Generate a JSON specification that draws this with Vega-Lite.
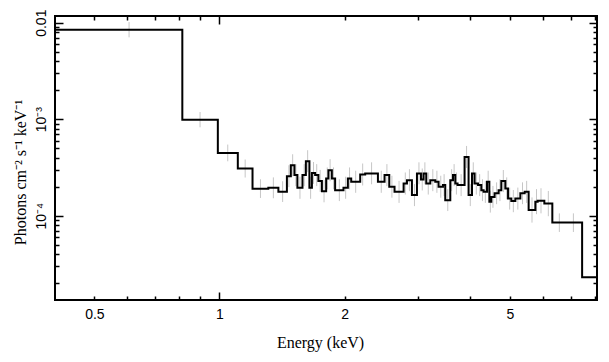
{
  "$schema": "https://vega.github.io/schema/vega-lite/v6.json",
  "width": 542,
  "height": 284,
  "autosize": {"type": "none"},
  "padding": {"left": 55, "top": 16, "right": 12, "bottom": 62},
  "background": "white",
  "config": {
    "view": {"stroke": "black", "strokeWidth": 2},
    "axis": {"grid": false, "domain": false, "labelColor": "black", "tickColor": "black", "titleColor": "black"}
  },
  "datasets": {
    "step": [
      {"e0": 0.40, "f": 0.00846},
      {"e0": 0.814, "f": 0.00099},
      {"e0": 0.991, "f": 0.000448},
      {"e0": 1.107, "f": 0.000309},
      {"e0": 1.201, "f": 0.000191},
      {"e0": 1.311, "f": 0.000195},
      {"e0": 1.386, "f": 0.000178},
      {"e0": 1.453, "f": 0.000257},
      {"e0": 1.485, "f": 0.000334},
      {"e0": 1.515, "f": 0.000264},
      {"e0": 1.540, "f": 0.000195},
      {"e0": 1.584, "f": 0.000264},
      {"e0": 1.614, "f": 0.000368},
      {"e0": 1.646, "f": 0.000195},
      {"e0": 1.669, "f": 0.000278},
      {"e0": 1.699, "f": 0.000264},
      {"e0": 1.730, "f": 0.000230},
      {"e0": 1.764, "f": 0.000180},
      {"e0": 1.806, "f": 0.000244},
      {"e0": 1.829, "f": 0.000297},
      {"e0": 1.864, "f": 0.000244},
      {"e0": 1.898, "f": 0.000184},
      {"e0": 1.988, "f": 0.000195},
      {"e0": 2.037, "f": 0.000244},
      {"e0": 2.075, "f": 0.000225},
      {"e0": 2.181, "f": 0.000268},
      {"e0": 2.242, "f": 0.000275},
      {"e0": 2.406, "f": 0.000225},
      {"e0": 2.496, "f": 0.000264},
      {"e0": 2.562, "f": 0.000200},
      {"e0": 2.638, "f": 0.000177},
      {"e0": 2.774, "f": 0.000216},
      {"e0": 2.826, "f": 0.000234},
      {"e0": 2.905, "f": 0.000164},
      {"e0": 2.987, "f": 0.000275},
      {"e0": 3.054, "f": 0.000238},
      {"e0": 3.098, "f": 0.000275},
      {"e0": 3.145, "f": 0.000216},
      {"e0": 3.216, "f": 0.000234},
      {"e0": 3.306, "f": 0.000225},
      {"e0": 3.367, "f": 0.000200},
      {"e0": 3.450, "f": 0.000208},
      {"e0": 3.494, "f": 0.000145},
      {"e0": 3.593, "f": 0.000234},
      {"e0": 3.647, "f": 0.000264},
      {"e0": 3.694, "f": 0.000216},
      {"e0": 3.741, "f": 0.000208},
      {"e0": 3.889, "f": 0.000407},
      {"e0": 3.976, "f": 0.000164},
      {"e0": 4.052, "f": 0.000275},
      {"e0": 4.111, "f": 0.000216},
      {"e0": 4.190, "f": 0.000208},
      {"e0": 4.267, "f": 0.000184},
      {"e0": 4.322, "f": 0.000177},
      {"e0": 4.404, "f": 0.000225},
      {"e0": 4.461, "f": 0.000140},
      {"e0": 4.510, "f": 0.000157},
      {"e0": 4.593, "f": 0.000171},
      {"e0": 4.696, "f": 0.000184},
      {"e0": 4.767, "f": 0.000229},
      {"e0": 4.874, "f": 0.000192},
      {"e0": 4.948, "f": 0.000151},
      {"e0": 5.039, "f": 0.000142},
      {"e0": 5.152, "f": 0.000151},
      {"e0": 5.297, "f": 0.000171},
      {"e0": 5.425, "f": 0.000177},
      {"e0": 5.546, "f": 0.000115},
      {"e0": 5.756, "f": 0.000140},
      {"e0": 5.830, "f": 0.000143},
      {"e0": 6.050, "f": 0.000134},
      {"e0": 6.324, "f": 0.000085},
      {"e0": 7.459, "f": 0.0000231},
      {"e0": 8.2, "f": 0.0000231}
    ],
    "err": [
      {"ec": 0.606, "lo": 0.00705, "hi": 0.01015},
      {"ec": 0.898, "lo": 0.000825, "hi": 0.001188},
      {"ec": 1.047, "lo": 0.000367, "hi": 0.000547},
      {"ec": 1.153, "lo": 0.000249, "hi": 0.000383},
      {"ec": 1.255, "lo": 0.000153, "hi": 0.000239},
      {"ec": 1.348, "lo": 0.000152, "hi": 0.000250},
      {"ec": 1.419, "lo": 0.000139, "hi": 0.000228},
      {"ec": 1.469, "lo": 0.000198, "hi": 0.000334},
      {"ec": 1.500, "lo": 0.000257, "hi": 0.000434},
      {"ec": 1.527, "lo": 0.000203, "hi": 0.000343},
      {"ec": 1.562, "lo": 0.000150, "hi": 0.000254},
      {"ec": 1.599, "lo": 0.000203, "hi": 0.000343},
      {"ec": 1.630, "lo": 0.000283, "hi": 0.000478},
      {"ec": 1.657, "lo": 0.000150, "hi": 0.000254},
      {"ec": 1.684, "lo": 0.000214, "hi": 0.000361},
      {"ec": 1.714, "lo": 0.000203, "hi": 0.000343},
      {"ec": 1.747, "lo": 0.000177, "hi": 0.000299},
      {"ec": 1.785, "lo": 0.000138, "hi": 0.000234},
      {"ec": 1.817, "lo": 0.000188, "hi": 0.000317},
      {"ec": 1.846, "lo": 0.000228, "hi": 0.000386},
      {"ec": 1.881, "lo": 0.000188, "hi": 0.000317},
      {"ec": 1.943, "lo": 0.000142, "hi": 0.000239},
      {"ec": 2.012, "lo": 0.000150, "hi": 0.000254},
      {"ec": 2.056, "lo": 0.000188, "hi": 0.000317},
      {"ec": 2.127, "lo": 0.000173, "hi": 0.000293},
      {"ec": 2.211, "lo": 0.000206, "hi": 0.000348},
      {"ec": 2.323, "lo": 0.000212, "hi": 0.000358},
      {"ec": 2.451, "lo": 0.000173, "hi": 0.000293},
      {"ec": 2.529, "lo": 0.000203, "hi": 0.000343},
      {"ec": 2.600, "lo": 0.000154, "hi": 0.000260},
      {"ec": 2.705, "lo": 0.000136, "hi": 0.000230},
      {"ec": 2.800, "lo": 0.000166, "hi": 0.000281},
      {"ec": 2.865, "lo": 0.000180, "hi": 0.000304},
      {"ec": 2.946, "lo": 0.000126, "hi": 0.000213},
      {"ec": 3.020, "lo": 0.000212, "hi": 0.000358},
      {"ec": 3.076, "lo": 0.000183, "hi": 0.000309},
      {"ec": 3.121, "lo": 0.000212, "hi": 0.000358},
      {"ec": 3.180, "lo": 0.000166, "hi": 0.000281},
      {"ec": 3.261, "lo": 0.000180, "hi": 0.000304},
      {"ec": 3.336, "lo": 0.000173, "hi": 0.000293},
      {"ec": 3.408, "lo": 0.000154, "hi": 0.000260},
      {"ec": 3.472, "lo": 0.000160, "hi": 0.000270},
      {"ec": 3.543, "lo": 0.000112, "hi": 0.000189},
      {"ec": 3.620, "lo": 0.000180, "hi": 0.000304},
      {"ec": 3.670, "lo": 0.000203, "hi": 0.000343},
      {"ec": 3.717, "lo": 0.000166, "hi": 0.000281},
      {"ec": 3.815, "lo": 0.000160, "hi": 0.000270},
      {"ec": 3.932, "lo": 0.000313, "hi": 0.000529},
      {"ec": 4.014, "lo": 0.000126, "hi": 0.000213},
      {"ec": 4.081, "lo": 0.000212, "hi": 0.000358},
      {"ec": 4.150, "lo": 0.000166, "hi": 0.000281},
      {"ec": 4.228, "lo": 0.000160, "hi": 0.000270},
      {"ec": 4.294, "lo": 0.000142, "hi": 0.000239},
      {"ec": 4.363, "lo": 0.000136, "hi": 0.000230},
      {"ec": 4.432, "lo": 0.000173, "hi": 0.000293},
      {"ec": 4.485, "lo": 0.000108, "hi": 0.000182},
      {"ec": 4.551, "lo": 0.000121, "hi": 0.000204},
      {"ec": 4.644, "lo": 0.000132, "hi": 0.000222},
      {"ec": 4.731, "lo": 0.000142, "hi": 0.000239},
      {"ec": 4.820, "lo": 0.000176, "hi": 0.000298},
      {"ec": 4.911, "lo": 0.000148, "hi": 0.000250},
      {"ec": 4.993, "lo": 0.000116, "hi": 0.000196},
      {"ec": 5.095, "lo": 0.000109, "hi": 0.000185},
      {"ec": 5.224, "lo": 0.000116, "hi": 0.000196},
      {"ec": 5.361, "lo": 0.000132, "hi": 0.000222},
      {"ec": 5.485, "lo": 0.000136, "hi": 0.000230},
      {"ec": 5.650, "lo": 0.000085, "hi": 0.000155},
      {"ec": 5.793, "lo": 0.000104, "hi": 0.000189},
      {"ec": 5.939, "lo": 0.000106, "hi": 0.000193},
      {"ec": 6.185, "lo": 0.000099, "hi": 0.000181},
      {"ec": 6.575, "lo": 0.000068, "hi": 0.000106},
      {"ec": 7.107, "lo": 0.000068, "hi": 0.000106}
    ]
  },
  "resolve": {"axis": {"x": "independent", "y": "independent"}},
  "layer": [
    {
      "data": {"name": "err"},
      "mark": {"type": "rule", "color": "#c6c6c6", "strokeWidth": 1, "clip": true},
      "encoding": {
        "x": {
          "field": "ec", "type": "quantitative",
          "scale": {"type": "log", "domain": [0.402, 8.1], "nice": false},
          "axis": {
            "orient": "bottom", "values": [0.5, 1, 2, 5], "ticks": false, "format": "~g",
            "labelFont": "Liberation Sans", "labelFontSize": 14, "labelPadding": 7,
            "title": "Energy (keV)", "titleFont": "Liberation Serif", "titleFontSize": 16,
            "titleFontWeight": "normal", "titleBaseline": "alphabetic", "titleY": 47, "titleX": 265
          }
        },
        "y": {
          "field": "lo", "type": "quantitative",
          "scale": {"type": "log", "domain": [0.00001343, 0.01173], "nice": false},
          "axis": {
            "orient": "left", "values": [0.0001, 0.001, 0.01], "ticks": false,
            "labelExpr": "datum.value == 0.01 ? '0.01' : (datum.value == 0.001 ? '10⁻³' : '10⁻⁴')",
            "labelAngle": -90, "labelAlign": "center", "labelBaseline": "alphabetic",
            "labelFont": "Liberation Sans", "labelFontSize": 14, "labelPadding": 10,
            "title": "Photons cm⁻² s⁻¹ keV⁻¹", "titleFont": "Liberation Serif", "titleFontSize": 16,
            "titleFontWeight": "normal", "titleAngle": -90, "titleAlign": "center",
            "titleBaseline": "alphabetic", "titleX": -30, "titleY": 156
          }
        },
        "y2": {"field": "hi"}
      }
    },
    {
      "data": {"name": "step"},
      "mark": {"type": "line", "interpolate": "step-after", "color": "black", "strokeWidth": 2, "clip": true},
      "encoding": {
        "x": {
          "field": "e0", "type": "quantitative",
          "axis": {
            "orient": "bottom", "labels": false, "title": null, "tickWidth": 1.5,
            "values": [0.5, 0.6, 0.7, 0.8, 0.9, 1, 2, 3, 4, 5, 6, 7, 8],
            "tickSize": {"condition": {"test": "datum.value == 1", "value": -8}, "value": -4}
          }
        },
        "y": {
          "field": "f", "type": "quantitative",
          "axis": {
            "orient": "left", "labels": false, "title": null, "tickWidth": 1.5,
            "values": [0.00002, 0.00003, 0.00004, 0.00005, 0.00006, 0.00007, 0.00008, 0.00009, 0.0001, 0.0002, 0.0003, 0.0004, 0.0005, 0.0006, 0.0007, 0.0008, 0.0009, 0.001, 0.002, 0.003, 0.004, 0.005, 0.006, 0.007, 0.008, 0.009, 0.01],
            "tickSize": {"condition": {"test": "datum.value == 0.01 || datum.value == 0.001 || datum.value == 0.0001", "value": -8}, "value": -4}
          }
        }
      }
    },
    {
      "data": {"name": "step"},
      "mark": {"type": "line", "interpolate": "step-after", "strokeOpacity": 0, "clip": true},
      "encoding": {
        "x": {
          "field": "e0", "type": "quantitative",
          "axis": {
            "orient": "top", "labels": false, "title": null, "tickWidth": 1.5,
            "values": [0.5, 0.6, 0.7, 0.8, 0.9, 1, 2, 3, 4, 5, 6, 7, 8],
            "tickSize": {"condition": {"test": "datum.value == 1", "value": -8}, "value": -4}
          }
        },
        "y": {
          "field": "f", "type": "quantitative",
          "axis": {
            "orient": "right", "labels": false, "title": null, "tickWidth": 1.5,
            "values": [0.00002, 0.00003, 0.00004, 0.00005, 0.00006, 0.00007, 0.00008, 0.00009, 0.0001, 0.0002, 0.0003, 0.0004, 0.0005, 0.0006, 0.0007, 0.0008, 0.0009, 0.001, 0.002, 0.003, 0.004, 0.005, 0.006, 0.007, 0.008, 0.009, 0.01],
            "tickSize": {"condition": {"test": "datum.value == 0.01 || datum.value == 0.001 || datum.value == 0.0001", "value": -8}, "value": -4}
          }
        }
      }
    }
  ]
}
